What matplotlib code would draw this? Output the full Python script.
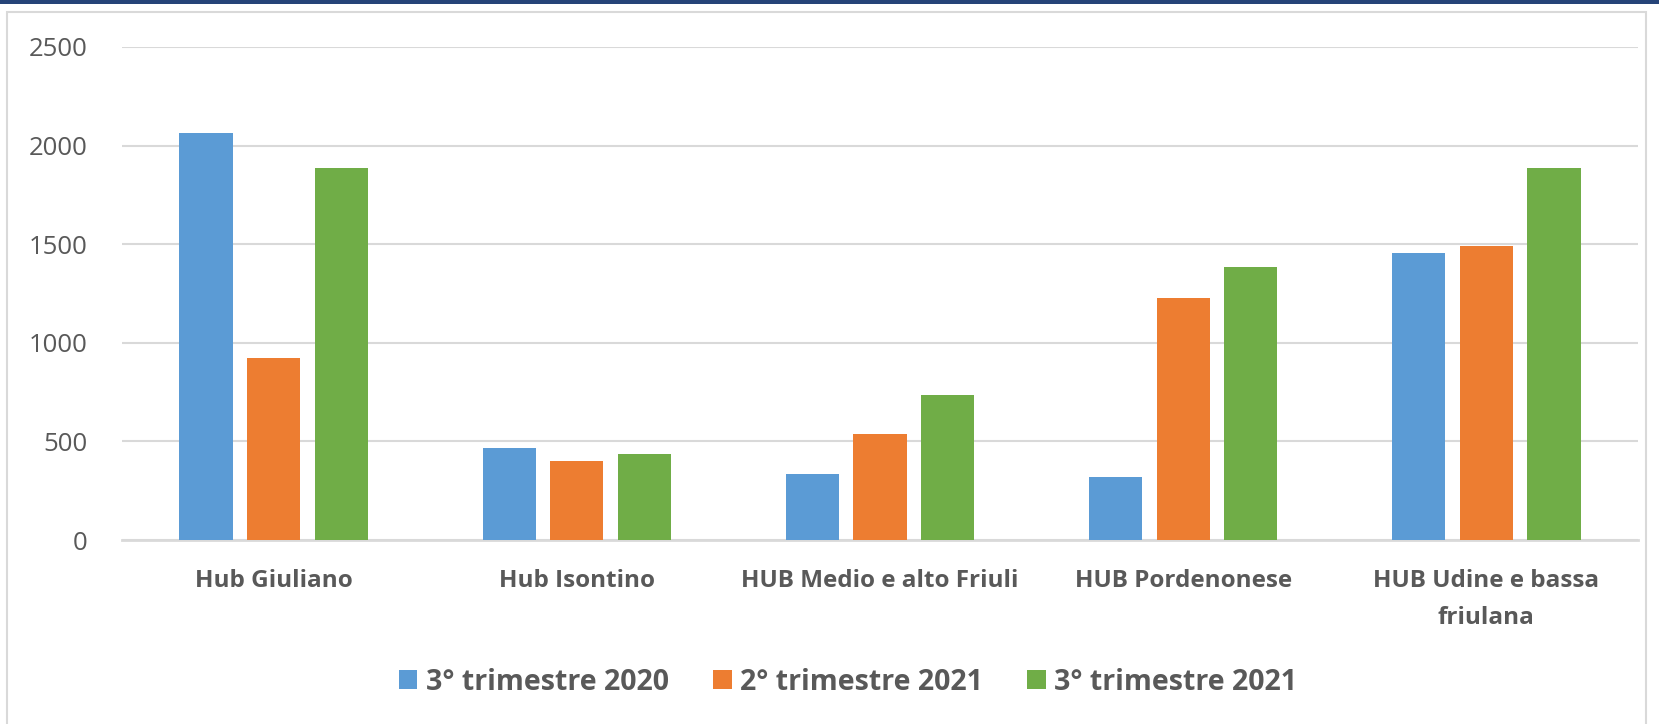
import numpy as np
import matplotlib
matplotlib.use('Agg')
import matplotlib.pyplot as plt
from matplotlib.patches import Rectangle

# Data
########################################
categories = ['Hub Giuliano', 'Hub Isontino', 'HUB Medio e alto Friuli',
              'HUB Pordenonese', 'HUB Udine e bassa\nfriulana']
series_names = ['3° trimestre 2020', '2° trimestre 2021', '3° trimestre 2021']
q3_2020 = [2065, 466, 334, 319, 1456]
q2_2021 = [923, 400, 537, 1227, 1491]
q3_2021 = [1887, 436, 735, 1385, 1887]
y_ticks = [0, 500, 1000, 1500, 2000, 2500]
########################################

colors = ['#5B9BD5', '#ED7D31', '#70AD47']
grid_col = '#D9D9D9'
text_col = '#595959'

plt.rcParams['font.family'] = ['Open Sans', 'DejaVu Sans']

W, H = 1659, 724
fig = plt.figure(figsize=(W / 100, H / 100), dpi=100)

# frame and top band
fig.patches.append(Rectangle((7 / W, -0.1), (1646 - 7) / W, 1.1 - 12 / H,
                             transform=fig.transFigure, fill=False,
                             edgecolor='#D9D9D9', linewidth=1.5))
fig.patches.append(Rectangle((0, 1 - 4 / H), 1, 4 / H, transform=fig.transFigure,
                             facecolor='#264478', edgecolor='none'))

ax = fig.add_axes([122 / W, 1 - 540 / H, (1638 - 122) / W, (540 - 47) / H])

x = np.arange(len(categories))
bw = 0.175
step = 0.223
for i, (vals, name) in enumerate(zip([q3_2020, q2_2021, q3_2021], series_names)):
    ax.bar(x + (i - 1) * step, vals, width=bw, color=colors[i], label=name, zorder=3)

ax.set_xlim(-0.5, len(categories) - 0.5)
ax.set_ylim(0, 2500)
ax.set_yticks(y_ticks)
ax.set_yticklabels([str(v) for v in y_ticks], fontsize=18.5, color=text_col)
ax.set_xticks(x)
ax.set_xticklabels(categories, fontsize=17.5, color=text_col, fontweight='bold',
                   linespacing=1.7)
ax.tick_params(axis='x', length=0, pad=21)
ax.tick_params(axis='y', length=0, pad=25)

ax.grid(axis='y', color=grid_col, linewidth=1.5, zorder=0)
for s in ['top', 'right', 'left']:
    ax.spines[s].set_visible(False)
ax.spines['bottom'].set_color(grid_col)
ax.spines['bottom'].set_linewidth(2)

leg = fig.legend(loc='center', bbox_to_anchor=(848 / W, 1 - 682 / H), ncol=3,
                 frameon=False, fontsize=20.5, handlelength=0.65, handleheight=0.65,
                 handletextpad=0.3, columnspacing=1.55)
for t in leg.get_texts():
    t.set_color(text_col)
    t.set_fontweight('bold')

fig.savefig('out.png', dpi=100)
